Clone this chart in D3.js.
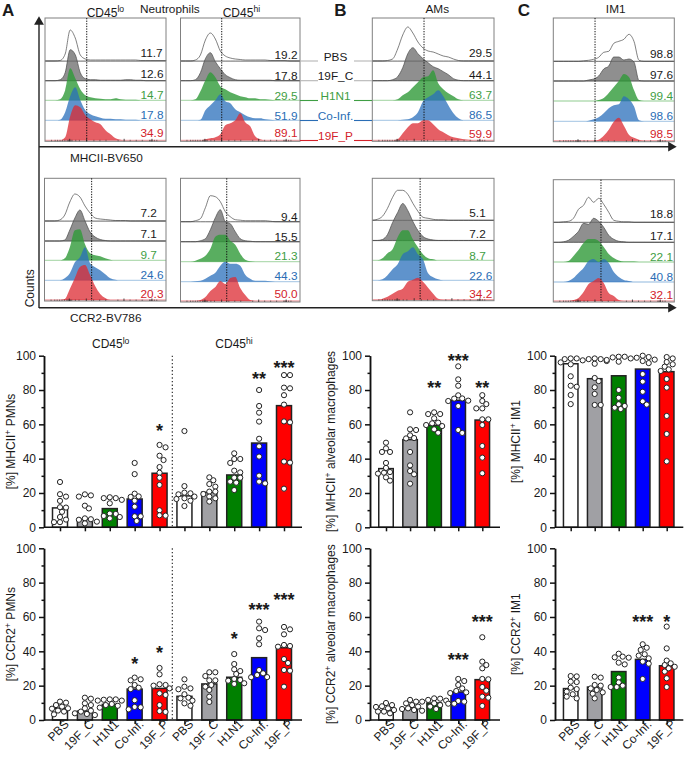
<!DOCTYPE html>
<html>
<head>
<meta charset="utf-8">
<script src="https://cdn.jsdelivr.net/npm/d3@7"></script>
<style>
  body { margin: 0; background: #fff; }
  text { font-family: "Liberation Sans", Arial, sans-serif; fill: #1a1a1a; }
</style>
</head>
<body>
<div id="viz"></div>
<script>
// groups, same order in every panel
const groupLabels = ["PBS", "19F_C", "H1N1", "Co-Inf.", "19F_P"];

// gated percentages printed in the flow panels
const pctMhcLo = ["11.7", "12.6", "14.7", "17.8", "34.9"];
const pctMhcHi = ["19.2", "17.8", "29.5", "51.9", "89.1"];
const pctMhcAm = ["29.5", "44.1", "63.7", "86.5", "59.9"];
const pctMhcIm = ["98.8", "97.6", "99.4", "98.6", "98.5"];
const pctCcrLo = ["7.2", "7.1", "9.7", "24.6", "20.3"];
const pctCcrHi = ["9.4", "15.5", "21.3", "44.3", "50.0"];
const pctCcrAm = ["5.1", "7.2", "8.7", "22.6", "34.2"];
const pctCcrIm = ["18.8", "17.1", "22.1", "40.8", "32.1"];

// histogram counts, 25 equal bins over the intensity axis
const histMhcLo = [
  [0,0,0,0.5,7,31,23,6,2,1,1,1,1,1,1,1,1,1,1,0.5,0.5,0.5,0.5,0.5,0.5],
  [0,0,0,1,8,31,26,8,2,1,1,0.5,0.5,0.5,0.5,0.5,1,1,0.5,0.5,0,0,0,0,0],
  [0,0,0,1,10,32,22,11,5,3,2,1.5,1,1,2,1,0.5,0.5,0.5,0,0,0,0,0,0],
  [0,0,0,0.5,8,24,33,20,10,6,4,2.5,1.5,1.5,1,1,0.5,0.5,0.5,0,0,0,0,0,0],
  [0,0,0,0,3,24,35,33,25,21,18,16,10,6,2,0.5,0,0,0,0,0,0,0,0,0]
];
const histMhcHi = [
  [0,0,0,1,6,21,28,22,10,5,3,2,1.5,1,1,1,1,1,0.5,0.5,0.5,0.5,0,0,0],
  [0,0,0,1,8,22,28,19,12,6,3,1,0.5,0.5,0.5,0.5,0.5,0.5,0.5,0,0,0,0,0,0],
  [0,0,0,1,9,20,28,23,14,11,8,6,4,3,2,2,1,1,0.5,0,0,0,0,0,0],
  [0,0,0,0,0.5,10,15,20,26,19,17,11,8,5,3,2,2,1,0.5,0,0,0,0,0,0],
  [0,0,0,0,0,1,2,3,6,15,17,20,27,18,14,4,1,0,0,0,0,0,0,0,0]
];
const histMhcAm = [
  [0,0,0,0.5,2,12,26,34,28,19,13,10,9,7,5,4,2,0.5,0,0,0,0,0,0,0],
  [0,0,0,0,1,4,13,27,33,27,22,18,14,12,9,6,2,0.5,0,0,0,0,0,0,0],
  [0,0,0,0,0,1,5,8,13,18,23,24,30,17,11,7,4,1,0,0,0,0,0,0,0],
  [0,0,0,0,0,0,0.5,1,3,8,19,23,26,30,24,15,7,2,0,0,0,0,0,0,0],
  [0,0,0,0,0,1,7,13,17,17,20,20,16,11,8,5,3,2,1,0.5,0,0,0,0,0]
];
const histMhcIm = [
  [0,0,0,0,0,0,0.5,1,2,4,9,10,18,20,22,27,20,1,0,0,0,0,0,0,0],
  [0,0,0,0,0,0,0,1,2,5,12,15,24,24,21,22,19,0.5,0,0,0,0,0,0,0],
  [0,0,0,0,0,0,0,0,0,1,3,8,14,20,27,24,11,1,0,0,0,0,0,0,0],
  [0,0,0,0,0,0,0,0.5,2,4,8,13,16,17,25,22,15,1,0,0,0,0,0,0,0],
  [0,0,0,0,0,0,0,0,0,1,5,11,19,23,15,6,3,1,0,0,0,0,0,0,0]
];
const histCcrLo = [
  [0,0,0,1,6,19,27,24,15,8,3,2,1.5,1,0.5,0.5,0.5,0,0,0,0,0,0,0,0],
  [0,0,0,0,1,11,23,31,20,9,4,1.5,0.5,0,0,0,0,0,0,0,0,0,0,0,0],
  [0,0,0,0,2,13,30,31,16,7,5,4,2,0.5,0,0,0,0,0,0,0,0,0,0,0],
  [0,0,0,0,2,7,18,23,33,17,13,10,6,2,0.5,0,0,0,0,0,0,0,0,0,0],
  [0,0,0,0,1,11,22,33,35,25,14,6,2,0,0,0,0,0,0,0,0,0,0,0,0]
];
const histCcrHi = [
  [0,0,0,1,3,14,26,25,20,10,5,2,1.5,1,1,1,1,1,0.5,0,0,0,0,0,0],
  [0,0,0,0,1,3,12,24,32,20,18,10,3,1,0.5,0,0,0,0,0,0,0,0,0,0],
  [0,0,0,1,3,6,13,25,27,27,21,17,8,2,0.5,0,0,0,0,0,0,0,0,0,0],
  [0,0,0,0.5,1,3,6,9,16,20,18,18,16,7,3,1,1,1,0.5,0,0,0,0,0,0],
  [0,0,0,0,1,4,10,14,20,17,23,24,13,6,1,0,0,0,0,0,0,0,0,0,0]
];
const histCcrAm = [
  [0,1,4,12,23,30,30,26,17,9,3,2,1,0.5,0.5,0,0,0,0,0,0,0,0,0,0],
  [0,0,1,6,18,28,37,30,19,10,4,1.5,0.5,0,0,0,0,0,0,0,0,0,0,0,0],
  [0,0,2,7,11,23,30,30,21,13,6,2,1,0,0,0,0,0,0,0,0,0,0,0,0],
  [0,0,1,5,11,16,26,29,33,26,21,7,3,1,0,0,0,0,0,0,0,0,0,0,0],
  [0,0,1,3,6,9,11,18,20,22,18,12,6,1,0,0,0,0,0,0,0,0,0,0,0]
];
const histCcrIm = [
  [0,0,0.5,1,4,13,17,25,20,24,18,10,2,1,0.5,0.5,0,0,0,0,0,0,0,0,0],
  [0,0,0.5,2,6,11,19,18,24,21,15,7,3,1,0.5,0,0,0,0,0,0,0,0,0,0],
  [0,0,0,1,6,12,19,23,23,21,15,8,4,1.5,0.5,0.5,0.5,0,0,0,0,0,0,0,0],
  [0,0,0,1,4,9,14,21,23,20,23,19,10,5,2,1,0,0,0,0,0,0,0,0,0],
  [0,0,0,0,1,3,9,17,20,23,18,8,5,1,0,0,0,0,0,0,0,0,0,0,0]
];

// tick values of the flow intensity axis
const flowMinor = [5,8,10,12,14,16,18,19,20,21,22,25,28,40,45,50,60,70,75,80,86,87,88,90,92];
const flowMajor = [20,34,65,88];

// bar heights and animals, PMNs has ten groups (CD45lo then CD45hi)
const mhcPmnMeans = [11.3,4.7,10.9,16.5,31.5,18.3,20.4,30.5,49.1,70.9];
const mhcPmnDots = [
  [26.4,19.3,17.9,15.4,11.7,11.5,9,6,4.5,3,3],
  [19.2,18.6,17.9,12.6,11,5.2,4.7,4.4,3.3,2.3],
  [17.5,17,17,16,14,8,7.8,6.6,6,5.2],
  [37.5,31,19.6,18,17.7,15.5,12,6.4,6.4,3.7],
  [48,46.6,41.7,39.2,35.1,31.8,28.9,24.7,9.9,7,6.8],
  [56.1,24,20.2,19.8,19.2,17.9,16.9,16.5,15.5,12.4],
  [29.1,27.4,25.2,23.7,20.8,20.8,19.4,17.9,16.9,15],
  [43.1,39.8,39.8,37.5,33,32,28.9,28.9,26.6,26,21.7],
  [80,70.7,66.8,61.6,51.6,47.2,41.2,30.1,26.6,25.6],
  [88.7,88.7,81.4,81,77,71.5,61.7,61.2,38.3,37.7,22.5]
];
const mhcPmnStars = [[4,"*",58.3],[8,"**",89],[9,"***",95]];

const ccrPmnMeans = [6.8,5.2,9.1,18,18.4,13.8,21,24.9,36.3,42.1];
const ccrPmnDots = [
  [10.7,10.1,8.7,7.8,6.8,6.6,5.5,4.9,3.3],
  [13,12.4,9.7,8.7,6.8,5.4,4.9,3.9,3.5,2.9],
  [12,12,11.8,11.3,11.3,9.3,8.7,8.3,7.2],
  [24.7,23.7,23.1,20.4,18.8,18,11.5,7.6,7.4,6.2],
  [30.3,26.6,20.8,20.4,20,18.4,15.5,14.6,8.7,5.2,4.7],
  [23.7,19.4,18.4,17.9,15,13,12.6,11.3,9.7,8.3],
  [27.8,27.8,25.6,23.1,23.1,20.4,19.4,17.5,13.6,10.5],
  [38.4,32.6,29.5,28.5,26.8,23.9,23.3,22.9,21.4,21],
  [57.3,53.4,52.4,47.6,44.1,29.1,27.2,26.2,25,24.9],
  [54.2,52.8,49.9,43.7,43.1,42.7,35.5,33.2,29.1,28.7,19.4]
];
const ccrPmnStars = [[3,"*",35],[4,"*",41.4],[7,"*",49.5],[8,"***",66.4],[9,"***",72.4]];

const mhcAmMeans = [34.2,51.1,59.4,74,62.5];
const mhcAmDots = [
  [49.3,46,43.9,43.9,37.5,34.6,32.2,31.8,31.3,29.1,27.2],
  [67,57.1,56.7,53.6,52,51.8,43.9,36.1,32.8,30.9,25.4],
  [67,66,66,63.5,61,60.6,59.6,59,57.1,55.1],
  [93.8,86.2,82.5,76.9,75.1,75,73.8,73.6,70.7,56.7,55],
  [77,73.6,71.8,69.3,69.3,62.9,62.9,59.6,47.4,40.6,31.5]
];
const mhcAmStars = [[2,"**",83.3],[3,"***",99.2],[4,"**",83.5]];

const ccrAmMeans = [5.4,6.4,9.9,16.3,23.5];
const ccrAmDots = [
  [9.9,8.7,8,7.6,6.8,5.8,4.9,4.9,3.9],
  [11.7,10.7,9.7,8.7,7.8,6.8,6.4,5.8,5.4],
  [12.6,12.4,11.7,11.3,10.7,9.7,8.7,7.8,6.4],
  [23.9,22.7,20.4,18.4,16.9,16.1,15.7,11.1,10.7,9.5,9.5],
  [48.2,34,32,30.1,23.9,23.7,19.2,17.1,13.6,13,8.2]
];
const ccrAmStars = [[3,"***",37.3],[4,"***",59.2]];

const mhcImMeans = [95.3,86.6,88.3,92.2,90.7];
const mhcImDots = [
  [98.4,98.4,98,97.3,96.1,95,88,82.5,81.9,77.1,71.8],
  [98.4,98,98,96.9,95.3,87,85.2,81.6,77.7,71.3,71.3],
  [99.4,99.4,99,98.4,97.5,96.5,80,75.5,71.7,70.7,69.7,68.9],
  [100,99.2,98.8,97.7,96.9,95.7,89.3,84.9,79,73.4,71.5],
  [99.2,98.4,96.3,95,93.6,92,91.1,86.4,81.4,64.9,54.4,38.4]
];
const mhcImStars = [];

const ccrImMeans = [18.3,19.2,28.2,35.3,31.6];
const ccrImDots = [
  [25.6,25.4,22.3,22.1,18.8,18,16.5,15,13.6,12.6],
  [25.2,24.7,20.4,20,18.4,17.5,16.1,15.3,12.6],
  [38.6,36.9,36.5,36.3,33.4,32.4,24.7,21.9,20,19.2,19.2],
  [44.1,42.1,40.8,38.3,37.5,35.9,34,32.8,23.9],
  [54.4,41.7,34.6,33,32,31,30.1,28.2,24.3,19.2]
];
const ccrImStars = [[3,"***",59.2],[4,"*",59.2]];

// colours
const barColors = ["#ffffff", "#a0a0a4", "#008000", "#0000ff", "#ff0000"];
const histColors = ["#ffffff", "#6a6a6a", "#2f9a38", "#2a6fbb", "#dc2a32"];
const histOpacity = [1, 0.75, 0.8, 0.75, 0.75];
const baseColors = ["#c6c6c6", "#c6c6c6", "#b4dcb4", "#b4cfe8", "#f2a8ac"];
const textColors = ["#1a1a1a", "#1a1a1a", "#3f9e44", "#2a6db5", "#d3222a"];

const svg = d3.select("#viz").append("svg")
  .attr("width", 685)
  .attr("height", 760);

const fontSize = 11.8;

// ---------- flow panels ----------
// anchorX + anchor: some panels have the numbers left aligned, most right aligned
const flowPanels = [
  {hist: histMhcLo, pct: pctMhcLo, x0: 45, x1: 166, top: 18, bases: [61,80.7,100.3,120.3,140.3], gate: 34.5, anchorX: 140.5, anchor: "start", labelY: [57.3,78,99.3,119.3,137.3]},
  {hist: histMhcHi, pct: pctMhcHi, x0: 180.5, x1: 300, top: 18, bases: [61,80.7,100.3,120.3,140.3], gate: 34.5, anchorX: 297.5, anchor: "end", labelY: [59,80,100,120,137]},
  {hist: histMhcAm, pct: pctMhcAm, x0: 372.3, x1: 494, top: 18, bases: [61,80.7,100.3,120.3,140.3], gate: 42.5, anchorX: 492, anchor: "end", labelY: [57.3,78.7,99.3,119.3,138.3]},
  {hist: histMhcIm, pct: pctMhcIm, x0: 553.3, x1: 674.3, top: 18, bases: [61.3,81,101,121.3,140.7], gate: 34.5, anchorX: 673, anchor: "end", labelY: [57.7,79.3,100,120,138.3]},
  {hist: histCcrLo, pct: pctCcrLo, x0: 44.5, x1: 166, top: 178.3, bases: [221,241,260.3,280.3,300], gate: 38.8, anchorX: 140.5, anchor: "start", labelY: [217,237.7,259.3,279.3,298.3]},
  {hist: histCcrHi, pct: pctCcrHi, x0: 180.5, x1: 300, top: 178.3, bases: [221.7,241.7,261.7,281.7,301], gate: 38.7, anchorX: 297.5, anchor: "end", labelY: [220.7,241,260.3,280,297.7]},
  {hist: histCcrAm, pct: pctCcrAm, x0: 372.3, x1: 494, top: 178.3, bases: [220.3,240.5,260.3,280.3,299.7], gate: 39.3, anchorX: 469.3, anchor: "start", labelY: [217.3,238.3,260,279.7,298.3]},
  {hist: histCcrIm, pct: pctCcrIm, x0: 553.3, x1: 674.3, top: 179.7, bases: [222.3,242.3,262,282,301], gate: 39.4, anchorX: 673, anchor: "end", labelY: [218.3,240,261,280.7,299.3]}
];

function drawFlowPanel(p) {
  let bottom = p.bases[4] + 1;
  let x = d3.scaleLinear().domain([0, 100]).range([p.x0, p.x1]);
  let bins = d3.range(25).map(i => i * 100 / 24);
  let g = svg.append("g");

  p.hist.forEach(function (counts, row) {
    let y = d3.scaleLinear().domain([0, 40]).range([p.bases[row], p.bases[row] - 40]);
    let area = d3.area()
      .x((d, i) => x(bins[i]))
      .y0(y(0))
      .y1(d => y(d))
      .curve(d3.curveMonotoneX);

    g.append("line")
      .attr("x1", p.x0).attr("x2", p.x1)
      .attr("y1", p.bases[row]).attr("y2", p.bases[row])
      .attr("stroke", baseColors[row])
      .attr("stroke-width", 1.3);

    g.append("path")
      .datum(counts)
      .attr("d", area)
      .attr("fill", histColors[row])
      .attr("fill-opacity", histOpacity[row])
      .attr("stroke", row < 2 ? "#4a4a4a" : "none")
      .attr("stroke-width", 0.7);
  });

  // frame
  svg.append("rect")
    .attr("x", p.x0).attr("y", p.top)
    .attr("width", p.x1 - p.x0).attr("height", bottom - p.top)
    .attr("fill", "none")
    .attr("stroke", "#808080")
    .attr("stroke-width", 1);

  // tiny intensity ticks, inside the frame
  svg.append("g")
    .attr("transform", "translate(0," + bottom + ")")
    .call(d3.axisBottom(x).tickValues(flowMinor).tickSize(-1.5).tickFormat(""))
    .call(s => s.select(".domain").remove())
    .call(s => s.selectAll("line").attr("stroke", "#333").attr("stroke-width", 0.6));
  svg.append("g")
    .attr("transform", "translate(0," + bottom + ")")
    .call(d3.axisBottom(x).tickValues(flowMajor).tickSize(-2.5).tickFormat(""))
    .call(s => s.select(".domain").remove())
    .call(s => s.selectAll("line").attr("stroke", "#222").attr("stroke-width", 0.8));

  svg.append("line")
    .attr("x1", x(p.gate)).attr("x2", x(p.gate))
    .attr("y1", p.top).attr("y2", bottom)
    .attr("stroke", "#111")
    .attr("stroke-width", 1)
    .attr("stroke-dasharray", "1.3 1.3");

  p.pct.forEach(function (t, row) {
    svg.append("text")
      .attr("x", p.anchorX)
      .attr("y", p.labelY[row])
      .attr("text-anchor", p.anchor)
      .attr("font-size", fontSize)
      .style("fill", textColors[row])
      .text(t);
  });
}
flowPanels.forEach(drawFlowPanel);

// group names between the panels, joined to the row baselines
const rowLabelY = [60.7, 80, 99.7, 120, 140];
const rowLineY = [61, 80.7, 100.5, 120.5, 140.5];
groupLabels.forEach(function (name, i) {
  svg.append("text")
    .attr("x", 335.5).attr("y", rowLabelY[i])
    .attr("text-anchor", "middle")
    .attr("font-size", fontSize)
    .style("fill", textColors[i])
    .text(name);
  let col = i < 2 ? "#b5b5b5" : textColors[i];
  [[300, 318], [354, 372]].forEach(function (seg) {
    svg.append("line")
      .attr("x1", seg[0]).attr("x2", seg[1])
      .attr("y1", rowLineY[i]).attr("y2", rowLineY[i])
      .attr("stroke", col)
      .attr("stroke-width", 1.1);
  });
});

// big arrows
function arrow(x1, y1, x2, y2) {
  svg.append("line")
    .attr("x1", x1).attr("y1", y1).attr("x2", x2).attr("y2", y2)
    .attr("stroke", "#222")
    .attr("stroke-width", 1.4);
}
arrow(39, 22, 39, 308);
arrow(39, 146.7, 671, 146.7);
arrow(39, 307.7, 671, 307.7);
[[39, 22, 0], [671, 146.7, 90], [671, 307.7, 90]].forEach(function (a) {
  svg.append("path")
    .attr("d", d3.symbol().type(d3.symbolTriangle).size(42)())
    .attr("transform", "translate(" + a[0] + "," + a[1] + ") rotate(" + a[2] + ")")
    .attr("fill", "#222");
});

function addText(x, y, str, opts) {
  opts = opts || {};
  let t = svg.append("text")
    .attr("font-size", opts.size || fontSize)
    .attr("text-anchor", opts.anchor || "start")
    .attr("font-weight", opts.weight || null);
  if (opts.rotate) t.attr("transform", "translate(" + x + "," + y + ") rotate(" + opts.rotate + ")");
  else t.attr("x", x).attr("y", y);
  if (opts.sup) {
    t.append("tspan").text(str);
    t.append("tspan").attr("dy", -4.5).attr("font-size", (opts.size || fontSize) * 0.72).text(opts.sup);
    if (opts.tail) t.append("tspan").attr("dy", 4.5).text(opts.tail);
  } else {
    t.text(str);
  }
  return t;
}

// panel letters and titles
addText(2, 15.7, "A", {size: 17, weight: "bold"});
addText(334.3, 15.7, "B", {size: 17, weight: "bold"});
addText(517.7, 15.7, "C", {size: 17, weight: "bold"});
addText(86.7, 16.7, "CD45", {sup: "lo", size: 12});
addText(140, 12.7, "Neutrophils");
addText(222.7, 16.7, "CD45", {sup: "hi", size: 12});
addText(437.3, 13, "AMs", {anchor: "middle"});
addText(615.7, 13, "IM1", {anchor: "middle"});
addText(70, 161.7, "MHCII-BV650");
addText(70, 321.7, "CCR2-BV786");
addText(34, 288.3, "Counts", {anchor: "middle", rotate: -90, size: 12});

// ---------- bar charts ----------
// simple swarm, moves a dot sideways only when it would hit an earlier one
function swarm(values, y, minDist, step) {
  let placed = [];
  values.slice().sort((a, b) => b - a).forEach(function (v) {
    let cy = y(v);
    for (let k = 0; k < 20; k++) {
      let off = (k % 2 ? 1 : -1) * Math.ceil(k / 2) * step;
      let hit = placed.some(p => Math.hypot(p.off - off, p.cy - cy) < minDist);
      if (!hit) { placed.push({off: off, cy: cy}); break; }
    }
  });
  return placed;
}

function buildBarChart(c) {
  let g = svg.append("g");
  let y = d3.scaleLinear().domain([0, 100]).range([c.y0, c.y100]);
  let x = d3.scaleLinear().domain([0, c.means.length - 1]).range([c.first, c.last]);
  let barW = c.barW;

  // bars
  g.selectAll("rect")
    .data(c.means)
    .enter()
    .append("rect")
      .attr("x", (d, i) => x(i) - barW / 2)
      .attr("y", d => y(d))
      .attr("width", barW)
      .attr("height", d => y(0) - y(d))
      .attr("fill", (d, i) => barColors[i % 5])
      .attr("stroke", "#222")
      .attr("stroke-width", 1.5);

  // animals
  c.dots.forEach(function (vals, i) {
    g.append("g").selectAll("circle")
      .data(swarm(vals, y, 4.8, 2))
      .enter()
      .append("circle")
        .attr("cx", d => x(i) + d.off)
        .attr("cy", d => d.cy)
        .attr("r", 2.6)
        .attr("fill", "#fff")
        .attr("stroke", "#222")
        .attr("stroke-width", 1);
  });

  // axes
  let yAxis = d3.axisLeft(y).tickValues([0,20,40,60,80,100]).tickSize(5).tickPadding(3).tickSizeOuter(0);
  let yMinor = d3.axisLeft(y).tickValues(d3.range(10, 100, 20)).tickSize(2.5).tickFormat("").tickSizeOuter(0);
  let yG = g.append("g").attr("transform", "translate(" + c.axisX + ",0)").call(yAxis);
  yG.selectAll("text").attr("font-size", 12);
  g.append("g").attr("transform", "translate(" + c.axisX + ",0)").call(yMinor);

  let xAxis = d3.axisBottom(x)
    .tickValues(d3.range(c.means.length))
    .tickSize(4)
    .tickFormat(i => groupLabels[i % 5]);
  let xG = g.append("g").attr("transform", "translate(0," + c.y0 + ")").call(xAxis);
  xG.select(".domain").remove();
  if (c.labels) {
    xG.selectAll("text")
      .attr("font-size", 12)
      .attr("text-anchor", "end")
      .attr("dx", 3)
      .attr("dy", 3)
      .attr("transform", "rotate(-45)");
  } else {
    xG.selectAll("text").remove();
  }
  g.append("line")
    .attr("x1", c.axisX).attr("x2", c.axisEnd)
    .attr("y1", c.y0).attr("y2", c.y0)
    .attr("stroke", "#111");
  g.selectAll(".domain, .tick line")
    .attr("stroke", "#111");
  g.selectAll("line, .domain").attr("stroke-width", 1.5);

  // CD45lo / CD45hi divider
  if (c.divider) {
    g.append("line")
      .attr("x1", c.divider).attr("x2", c.divider)
      .attr("y1", c.y100).attr("y2", c.y0)
      .attr("stroke", "#222")
      .attr("stroke-width", 1.1)
      .attr("stroke-dasharray", "1.4 2.2");
  }

  // significance, height is where the stars sit on the axis
  c.stars.forEach(function (s) {
    g.append("text")
      .attr("x", x(s[0]))
      .attr("y", y(s[2]) + 10)
      .attr("text-anchor", "middle")
      .attr("font-size", 18)
      .attr("font-weight", "bold")
      .text(s[1]);
  });

  addText(c.labelX, (c.y0 + c.y100) / 2, c.title[0], {
    anchor: "middle", rotate: -90, sup: c.title[1], tail: c.title[2], size: 12
  });
}

const chartTop = {y100: 355.7, y0: 527.3};
const chartBottom = {y100: 548.3, y0: 720};
const chartPmn = {axisX: 44, axisEnd: 302, first: 60, last: 284, means: null, divider: 172.3, labelX: 15, barW: 15};
const chartAm = {axisX: 370, axisEnd: 500, first: 386, last: 482.3, divider: null, labelX: 335, barW: 14.5};
const chartIm = {axisX: 555, axisEnd: 683.3, first: 570.7, last: 666.7, divider: null, labelX: 520, barW: 14.5};

buildBarChart({...chartTop, ...chartPmn, means: mhcPmnMeans, dots: mhcPmnDots, stars: mhcPmnStars, title: ["[%] MHCII", "+", " PMNs"]});
buildBarChart({...chartBottom, ...chartPmn, means: ccrPmnMeans, dots: ccrPmnDots, stars: ccrPmnStars, title: ["[%] CCR2", "+", " PMNs"], labels: true});
buildBarChart({...chartTop, ...chartAm, means: mhcAmMeans, dots: mhcAmDots, stars: mhcAmStars, title: ["[%] MHCII", "+", " alveolar macrophages"]});
buildBarChart({...chartBottom, ...chartAm, means: ccrAmMeans, dots: ccrAmDots, stars: ccrAmStars, title: ["[%] CCR2", "+", " alveolar macrophages"], labels: true});
buildBarChart({...chartTop, ...chartIm, means: mhcImMeans, dots: mhcImDots, stars: mhcImStars, title: ["[%] MHCII", "+", " IM1"]});
buildBarChart({...chartBottom, ...chartIm, means: ccrImMeans, dots: ccrImDots, stars: ccrImStars, title: ["[%] CCR2", "+", " IM1"], labels: true});

addText(110.7, 348, "CD45", {anchor: "middle", sup: "lo", size: 12});
addText(234, 348, "CD45", {anchor: "middle", sup: "hi", size: 12});
</script>
</body>
</html>
